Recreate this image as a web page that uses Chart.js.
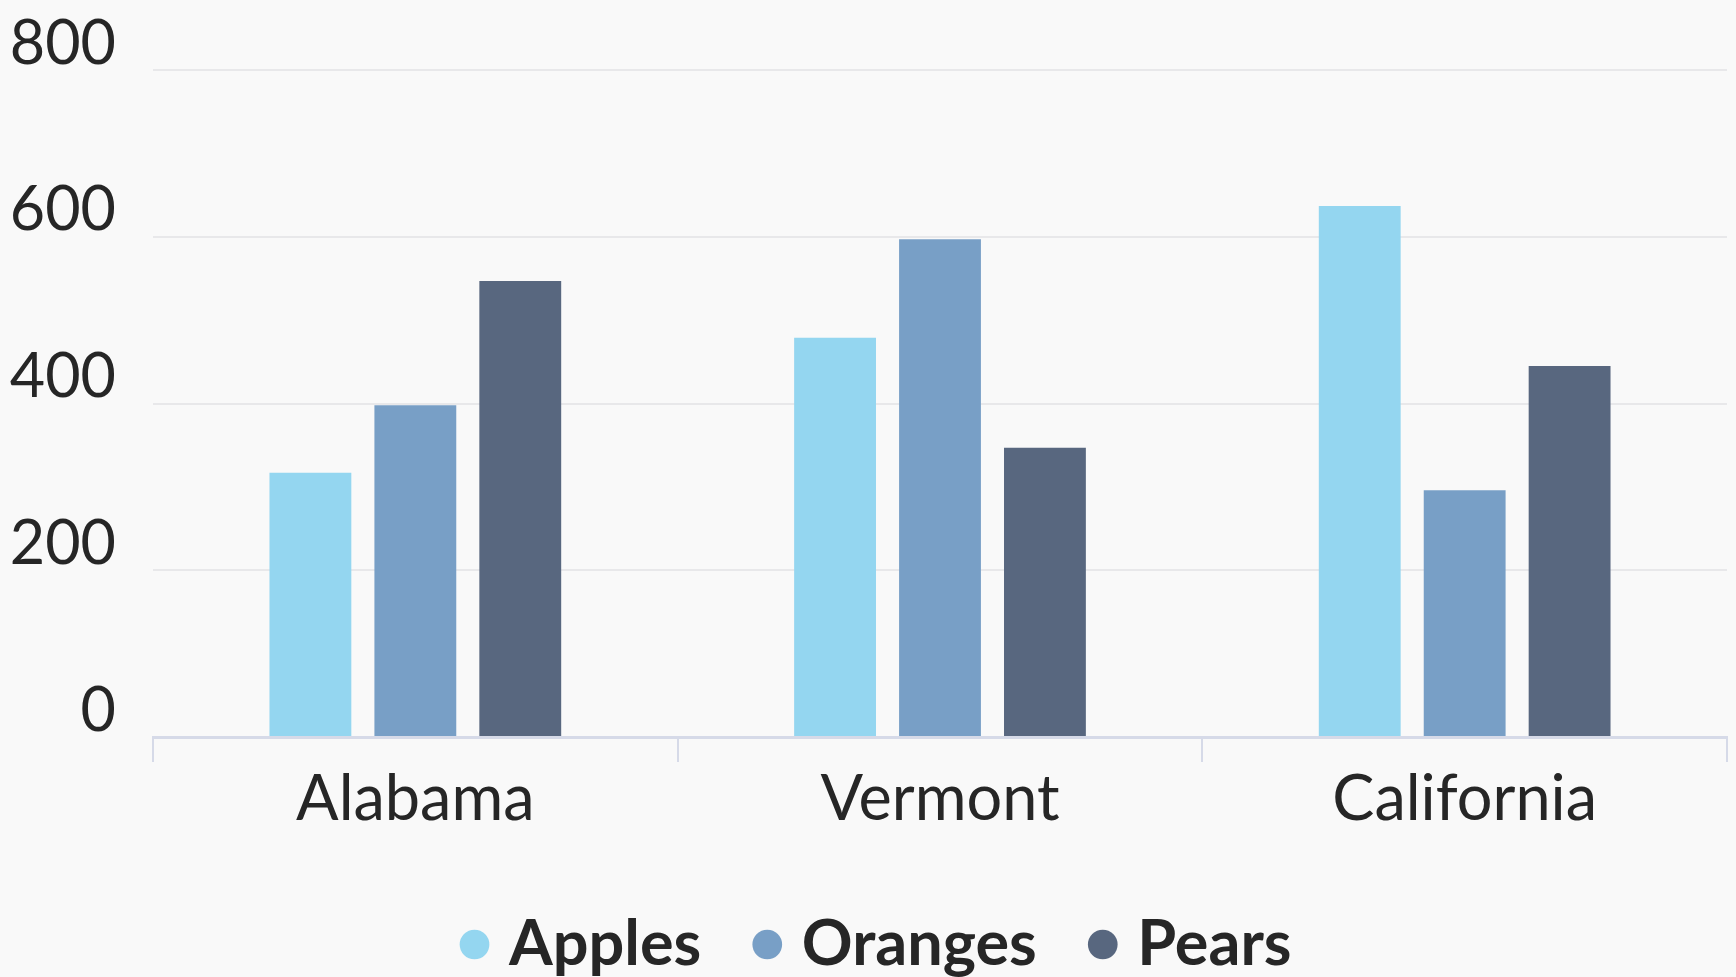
<!DOCTYPE html>
<html>
<head>
<meta charset="utf-8">
<script src="https://cdn.jsdelivr.net/npm/chart.js@4.4.1/dist/chart.umd.min.js"></script>
<style>
  html, body { margin: 0; padding: 0; background: #f9f9f9; overflow: hidden; }
  #wrap { width: 1736px; height: 986px; }
</style>
</head>
<body>
<div id="wrap"><canvas id="c" width="1736" height="986"></canvas></div>
<script>
const categories = ["Alabama", "Vermont", "California"];
const seriesNames = ["Apples", "Oranges", "Pears"];
const apples = [317, 479, 637];
const oranges = [398, 597, 296];
const pears = [547, 347, 445];
const yTicks = [0, 200, 400, 600, 800];

const colors = ["#94d6f0", "#789fc6", "#58677f"];
const values = [apples, oranges, pears];

const legendShift = {
  id: 'legendShift',
  afterLayout(chart) {
    const lg = chart.legend;
    if (lg) { lg.left += 18; lg.right += 18; if (lg.adjustHitBoxes) lg.adjustHitBoxes(); }
  }
};

new Chart(document.getElementById('c'), {
  type: 'bar',
  data: {
    labels: categories,
    datasets: seriesNames.map((n, i) => ({
      label: n,
      data: values[i],
      backgroundColor: colors[i],
      borderWidth: 0,
      categoryPercentage: 0.6,
      barPercentage: 0.78
    }))
  },
  plugins: [legendShift],
  options: {
    responsive: false,
    animation: false,
    devicePixelRatio: 1,
    layout: { padding: { top: 70, right: 9, left: 0, bottom: 0 } },
    plugins: {
      tooltip: { enabled: false },
      legend: {
        position: 'bottom',
        labels: {
          usePointStyle: true,
          pointStyle: 'circle',
          boxWidth: 6,
          boxHeight: 21,
          padding: 63,
          color: '#262626',
          font: { family: 'Lato', size: 63, weight: 'bold' }
        }
      }
    },
    scales: {
      x: {
        offset: true,
        grid: {
          display: true,
          drawOnChartArea: false,
          drawTicks: true,
          tickLength: 25,
          color: '#d6dae8',
          lineWidth: 2,
          offset: true
        },
        border: { display: true, color: '#d6dae8', width: 3 },
        ticks: {
          padding: 0,
          color: '#262626',
          font: { family: 'Lato', size: 63 }
        },
        afterFit: (s) => { s.height = 113; }
      },
      y: {
        min: yTicks[0],
        max: yTicks[yTicks.length - 1],
        afterBuildTicks: (s) => { s.ticks = yTicks.map(v => ({ value: v })); },
        grid: { color: '#e8e8ea', lineWidth: 2, drawTicks: false },
        border: { display: false },
        ticks: {
          padding: 37,
          labelOffset: -26,
          color: '#262626',
          font: { family: 'Lato', size: 61, lineHeight: 1 }
        },
        afterFit: (s) => { s.width = 153; }
      }
    }
  }
});
</script>
</body>
</html>
